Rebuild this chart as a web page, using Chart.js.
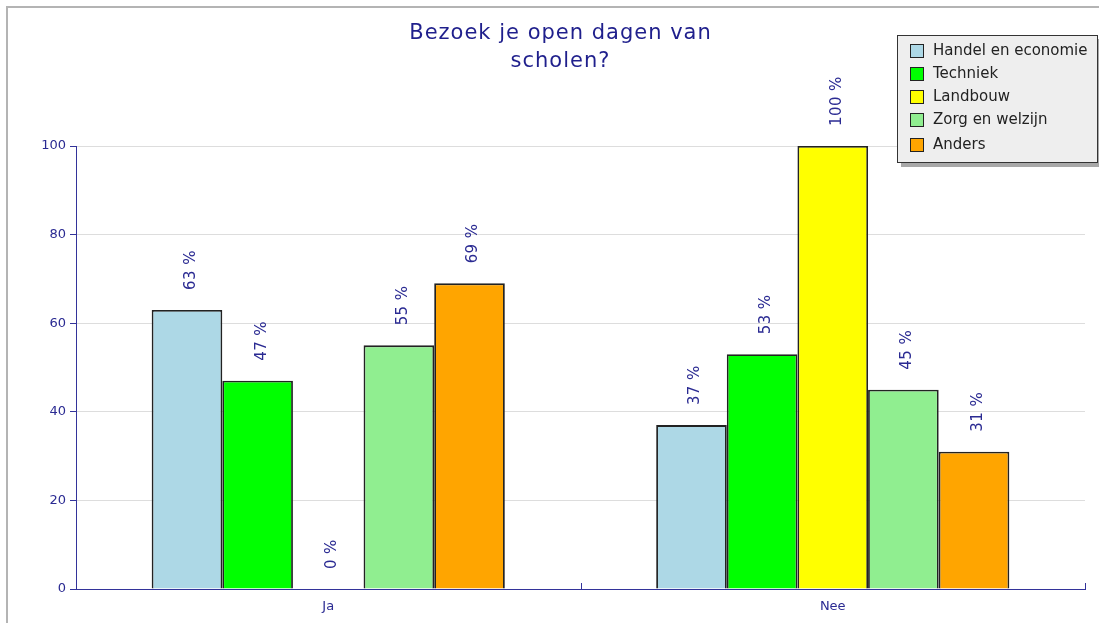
<!DOCTYPE html>
<html>
<head>
<meta charset="utf-8">
<title>Bezoek je open dagen van scholen?</title>
<script src="https://cdn.jsdelivr.net/npm/chart.js@4.4.1/dist/chart.umd.min.js"></script>
<style>
    html, body { margin: 0; padding: 0; background: #fff; }
    #wrap { position: relative; width: 1099px; height: 623px; }
</style>
</head>
<body>
<div id="wrap"><canvas id="chart" width="1099" height="623"></canvas></div>
<script>
// Data
const categories = ['Ja', 'Nee'];
const seriesNames = ['Handel en economie', 'Techniek', 'Landbouw', 'Zorg en welzijn', 'Anders'];
const handelValues = [63, 37];
const techniekValues = [47, 53];
const landbouwValues = [0, 100];
const zorgValues = [55, 45];
const andersValues = [69, 31];
const yTicks = [0, 20, 40, 60, 80, 100];
const titleLines = ['Bezoek je open dagen van', 'scholen?'];

const COLORS = ['#add8e6', '#00ff00', '#ffff00', '#90ee90', '#ffa500'];
const TEXT_BLUE = '#2a2a92';
const AXIS_BLUE = '#33339a';
const FONT = '"DejaVu Sans", Verdana, sans-serif';

const seriesValues = [handelValues, techniekValues, landbouwValues, zorgValues, andersValues];

// the old chart's Verdana is set a bit wider than DejaVu
function spaced(ctx, px) {
    if ('letterSpacing' in ctx) ctx.letterSpacing = px + 'px';
}

// Frame, title, legend, value labels and upward category ticks
const decorPlugin = {
    id: 'decor',
    beforeDraw(chart) {
        const ctx = chart.ctx;
        ctx.save();
        ctx.fillStyle = '#ffffff';
        ctx.fillRect(0, 0, chart.width, chart.height);
        ctx.strokeStyle = '#b4b4b4';
        ctx.lineWidth = 2;
        ctx.beginPath();
        ctx.moveTo(7, chart.height);
        ctx.lineTo(7, 7);
        ctx.lineTo(chart.width, 7);
        ctx.stroke();
        ctx.restore();
    },
    afterDatasetsDraw(chart) {
        const ctx = chart.ctx;
        ctx.save();
        ctx.font = '15px ' + FONT;
        spaced(ctx, 0.4);
        ctx.fillStyle = TEXT_BLUE;
        ctx.textAlign = 'left';
        ctx.textBaseline = 'middle';
        chart.data.datasets.forEach((ds, i) => {
            const meta = chart.getDatasetMeta(i);
            meta.data.forEach((bar, j) => {
                ctx.save();
                ctx.translate(bar.x + 4, bar.y - 20);
                ctx.rotate(-Math.PI / 2);
                ctx.fillText(ds.data[j] + ' %', 0, 0);
                ctx.restore();
            });
        });
        ctx.restore();
    },
    afterDraw(chart) {
        const ctx = chart.ctx;
        const area = chart.chartArea;
        ctx.save();

        // upward ticks on the category axis at group boundaries
        ctx.strokeStyle = AXIS_BLUE;
        ctx.lineWidth = 1;
        const n = categories.length;
        const step = (area.right - area.left) / n;
        for (let k = 0; k <= n; k++) {
            const x = Math.round(area.left + k * step) + 0.5;
            ctx.beginPath();
            ctx.moveTo(x, area.bottom);
            ctx.lineTo(x, area.bottom - 6);
            ctx.stroke();
        }

        // title
        ctx.fillStyle = '#1f1f8c';
        ctx.font = '21px ' + FONT;
        spaced(ctx, 1);
        ctx.textAlign = 'left';
        ctx.textBaseline = 'middle';
        titleLines.forEach((line, i) => {
            const w = ctx.measureText(line).width - 1;
            ctx.fillText(line, 560 - w / 2, 34 + i * 28);
        });

        // legend box with shadow
        const lx = 897, ly = 35, lw = 201, lh = 128;
        ctx.fillStyle = '#a8a8a8';
        ctx.fillRect(lx + 4, ly + 4, lw, lh);
        ctx.fillStyle = '#eeeeee';
        ctx.fillRect(lx, ly, lw, lh);
        ctx.strokeStyle = '#333333';
        ctx.lineWidth = 1;
        ctx.strokeRect(lx + 0.5, ly + 0.5, lw - 1, lh - 1);

        ctx.font = '15px ' + FONT;
        spaced(ctx, 0);
        const rows = [51, 74, 97, 120, 145];
        seriesNames.forEach((name, i) => {
            const y = rows[i];
            ctx.fillStyle = COLORS[i];
            ctx.fillRect(910, y - 7, 14, 14);
            ctx.strokeStyle = '#222222';
            ctx.strokeRect(910.5, y - 6.5, 13, 13);
            ctx.fillStyle = '#222222';
            ctx.fillText(name, 933, y);
        });
        ctx.restore();
    }
};

const datasets = seriesNames.map((name, i) => ({
    label: name,
    data: seriesValues[i],
    backgroundColor: COLORS[i],
    borderColor: '#222222',
    borderWidth: 1.8,
    categoryPercentage: 0.7,
    barPercentage: 1.0
}));

new Chart(document.getElementById('chart').getContext('2d'), {
    type: 'bar',
    data: { labels: categories, datasets },
    plugins: [decorPlugin],
    options: {
        responsive: false,
        animation: false,
        layout: { padding: { top: 146, left: 6, right: 14, bottom: 0 } },
        scales: {
            x: {
                afterFit: scale => { scale.height = 34; },
                grid: { display: false, drawTicks: false },
                border: { display: true, color: AXIS_BLUE, width: 1 },
                ticks: { color: TEXT_BLUE, font: { family: FONT, size: 13 }, padding: 10 }
            },
            y: {
                min: 0,
                max: 100,
                afterFit: scale => { scale.width = 70; },
                afterBuildTicks: scale => { scale.ticks = yTicks.map(v => ({ value: v })); },
                grid: { color: '#dddddd', tickColor: AXIS_BLUE, tickLength: 6 },
                border: { display: true, color: AXIS_BLUE, width: 1 },
                ticks: { color: TEXT_BLUE, font: { family: FONT, size: 13 }, padding: 4 }
            }
        },
        plugins: {
            legend: { display: false },
            title: { display: false },
            tooltip: { enabled: false }
        }
    }
});
</script>
</body>
</html>
